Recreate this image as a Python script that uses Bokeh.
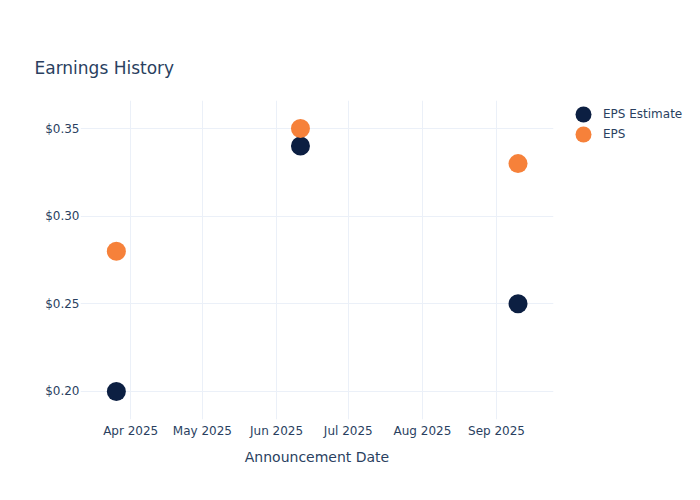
from datetime import datetime
from bokeh.plotting import figure
from bokeh.models import (Range1d, Legend, LegendItem, MonthsTicker, Title, LinearAxis, FixedTicker,
                          DatetimeTickFormatter, NumeralTickFormatter, SingleIntervalTicker)
from bokeh.embed import file_html
from bokeh.resources import INLINE

# ---- data ----
dates = [datetime(2025, 3, 26), datetime(2025, 6, 11), datetime(2025, 9, 10)]
eps_estimate = [0.20, 0.34, 0.25]
eps_actual = [0.28, 0.35, 0.33]
series_names = ["EPS Estimate", "EPS"]
chart_title = "Earnings History"
x_title = "Announcement Date"

FONT = "DejaVu Sans"
TXT = "#2a3f5f"
GRID = "#ebf0f8"
NAVY = "#0c1f42"
ORANGE = "#f6813a"

p = figure(frame_width=473, frame_height=319, x_axis_type="datetime",
           output_backend="svg", toolbar_location=None,
           x_range=Range1d(datetime(2025, 3, 11), datetime(2025, 9, 24, 20)),
           y_range=Range1d(0.184, 0.366),
           min_border_left=80, min_border_right=147,
           min_border_top=100, min_border_bottom=81)
p.outline_line_color = None
p.background_fill_color = "white"
p.border_fill_color = "white"

r1 = p.ellipse(dates, eps_estimate, width=19, height=19,
               width_units="screen", height_units="screen",
               fill_color=NAVY, line_color=None)
r2 = p.ellipse(dates, eps_actual, width=19, height=19,
               width_units="screen", height_units="screen",
               fill_color=ORANGE, line_color=None)

# axes
p.xaxis.ticker = MonthsTicker(months=list(range(12)))
p.xaxis.formatter = DatetimeTickFormatter(months="%b %Y", days="%b %Y")
p.yaxis.ticker = SingleIntervalTicker(interval=0.05, num_minor_ticks=0)
p.yaxis.formatter = NumeralTickFormatter(format="$0.00")
for ax in (p.xaxis[0], p.yaxis[0]):
    ax.axis_line_color = None
    ax.major_tick_line_color = None
    ax.minor_tick_line_color = None
    ax.major_tick_in = 0
    ax.major_tick_out = 0
    ax.minor_tick_out = 0
    ax.major_label_text_font = FONT
    ax.major_label_text_font_size = "12px"
    ax.major_label_text_color = TXT
p.yaxis.major_label_standoff = 1
p.xaxis.major_label_standoff = 4
p.xaxis.axis_label = x_title
p.xaxis.axis_label_text_font = FONT
p.xaxis.axis_label_text_font_size = "14px"
p.xaxis.axis_label_text_font_style = "normal"
p.xaxis.axis_label_text_color = TXT
p.xaxis.axis_label_standoff = 8

p.xgrid.grid_line_color = GRID
p.ygrid.grid_line_color = GRID
p.xgrid.grid_line_width = 1
p.ygrid.grid_line_width = 1

# title: empty spacers between frame and title push the title up
p.title.text = ""
p.title.standoff = 23
spacer = LinearAxis(ticker=FixedTicker(ticks=[]), axis_line_color=None,
                    major_tick_line_color="white", minor_tick_line_color=None,
                    major_tick_in=0, major_tick_out=0, minor_tick_out=0,
                    major_label_standoff=0)
p.add_layout(spacer, "above")
p.add_layout(Title(text=chart_title, text_font=FONT, text_font_size="17px",
                   text_font_style="normal", text_color=TXT, align="left",
                   offset=-46, standoff=46), "above")

# legend
legend = Legend(items=[LegendItem(label=series_names[0], renderers=[r1]),
                       LegendItem(label=series_names[1], renderers=[r2])],
                location=(20, 275), orientation="vertical",
                glyph_width=20, glyph_height=20, label_height=19,
                spacing=0, padding=0, margin=0, label_standoff=10,
                label_text_font=FONT, label_text_font_size="12px",
                label_text_color=TXT, label_text_baseline="middle",
                background_fill_alpha=0, border_line_color=None)
p.add_layout(legend, "right")

open("out.html", "w").write(file_html(p, INLINE))
